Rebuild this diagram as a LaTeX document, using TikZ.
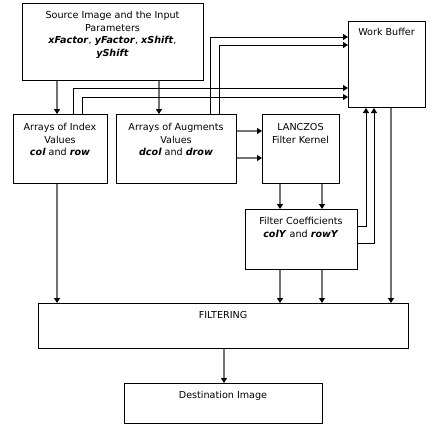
\documentclass[tikz,border=0pt]{standalone}
\usepackage{fontspec}
\setmainfont{DejaVu Sans}
\usetikzlibrary{arrows.meta}
\tikzset{
  box/.style={draw=black, line width=1pt, anchor=north west, inner sep=0pt, fill=white},
  lbl/.style={anchor=north, inner sep=0pt, align=center, font=\fontsize{9.6}{12.7}\selectfont},
  tip/.style={-{Triangle[length=5pt,width=6pt,color=black]}},
  garr/.style={tip, draw=black!55, line width=1.3pt},
  barr/.style={tip, draw=black, line width=0.9pt},
}
\newcommand{\vb}[1]{\textbf{\textit{#1}}}
\begin{document}
\begin{tikzpicture}[x=1pt,y=-1pt]
\useasboundingbox (0,0) rectangle (436,429);
% boxes
\node[box, minimum width=181pt, minimum height=77pt] (src) at (22,3) {};
\node[box, minimum width=94pt, minimum height=69pt] (idx) at (13,114) {};
\node[box, minimum width=120pt, minimum height=69pt] (aug) at (116,114) {};
\node[box, minimum width=77pt, minimum height=69pt] (lan) at (262,114) {};
\node[box, minimum width=77pt, minimum height=86pt] (wb) at (348,21) {};
\node[box, minimum width=112pt, minimum height=60pt] (fc) at (245,209) {};
\node[box, minimum width=370pt, minimum height=45pt] (filt) at (38,303) {};
\node[box, minimum width=198pt, minimum height=40pt] (dest) at (124,383) {};
% labels
\node[lbl] (srcT) at (112.5,11) {Source Image and the Input\\Parameters\\\vb{xFactor}, \vb{yFactor}, \vb{xShift},\\\vb{yShift}};
\node[lbl] (idxT) at (60,123) {Arrays of Index\\Values\\\vb{col} and \vb{row}};
\node[lbl] (augT) at (176,123) {Arrays of Augments\\Values\\\vb{dcol} and \vb{drow}};
\node[lbl] (lanT) at (300.5,123) {LANCZOS\\Filter Kernel};
\node[lbl] (wbT) at (386.5,28) {Work Buffer};
\node[lbl] (fcT) at (301,217) {Filter Coefficients\\\vb{colY} and \vb{rowY}};
\node[lbl] (filtT) at (223,311) {FILTERING};
\node[lbl] (destT) at (223,391) {Destination Image};
% helper coordinates
\coordinate (x57) at (57,0);
\coordinate (x159) at (159,0);
\coordinate (x73) at (73,88);
\coordinate (x82) at (82,97);
\coordinate (x210) at (210,37);
\coordinate (x219) at (219,45);
\coordinate (y131) at (0,131);
\coordinate (y158) at (0,158);
\coordinate (x280) at (280,0);
\coordinate (x322) at (322,0);
\coordinate (x366) at (366,226);
\coordinate (x374) at (374,243);
\coordinate (x391) at (391,0);
\coordinate (x224) at (224,0);
% connectors
\draw[garr] (src.south -| x57) -- (idx.north -| x57);
\draw[garr] (src.south -| x159) -- (aug.north -| x159);
\draw[barr] (idx.north -| x73) |- (wb.west |- x73);
\draw[barr] (idx.north -| x82) |- (wb.west |- x82);
\draw[barr] (aug.north -| x210) |- (wb.west |- x210);
\draw[barr] (aug.north -| x219) |- (wb.west |- x219);
\draw[garr] (aug.east |- y131) -- (lan.west |- y131);
\draw[garr] (aug.east |- y158) -- (lan.west |- y158);
\draw[garr] (lan.south -| x280) -- (fc.north -| x280);
\draw[garr] (lan.south -| x322) -- (fc.north -| x322);
\draw[barr] (fc.east |- x366) -| (wb.south -| x366);
\draw[barr] (fc.east |- x374) -| (wb.south -| x374);
\draw[garr] (idx.south -| x57) -- (filt.north -| x57);
\draw[garr] (fc.south -| x280) -- (filt.north -| x280);
\draw[garr] (fc.south -| x322) -- (filt.north -| x322);
\draw[garr] (wb.south -| x391) -- (filt.north -| x391);
\draw[garr] (filt.south -| x224) -- (dest.north -| x224);
\end{tikzpicture}
\end{document}
